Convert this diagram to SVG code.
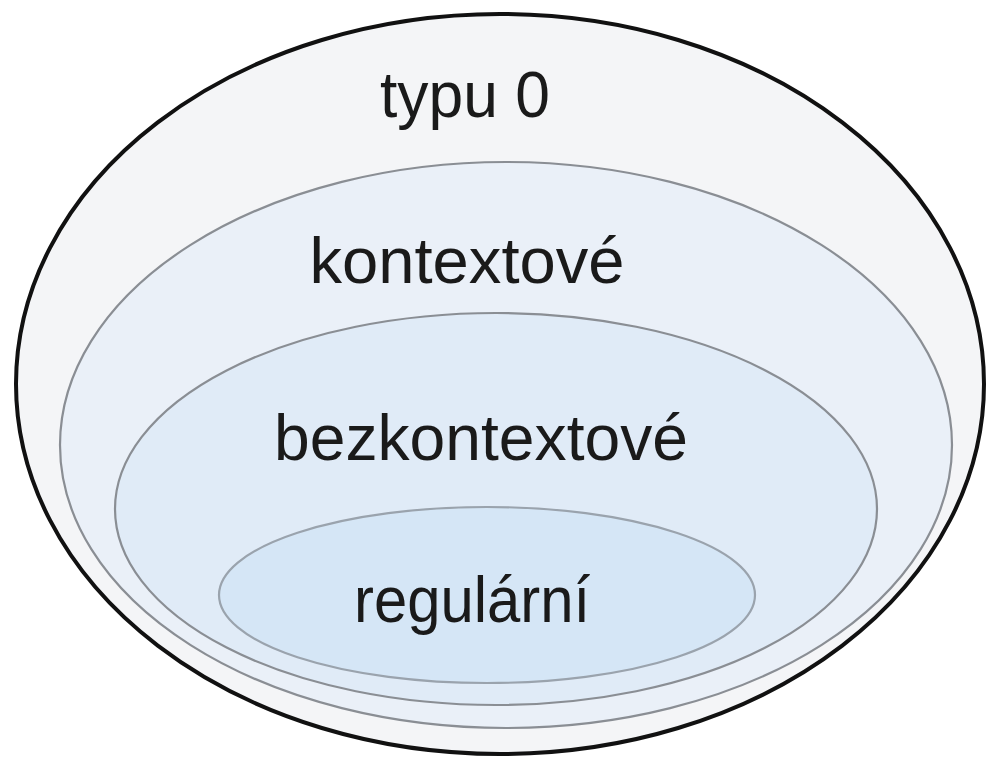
<svg xmlns="http://www.w3.org/2000/svg" width="992" height="759" viewBox="0 0 992 759">
<style>
.lbl{font-family:"Liberation Sans","DejaVu Sans",Arial,sans-serif;font-size:64px;fill:#1a1a1a;text-anchor:middle}
.inner{stroke:#8a8e94;stroke-width:2.2}
</style>
<rect x="0" y="0" width="992" height="759" fill="#ffffff"/>
<g id="typu0">
<ellipse cx="500" cy="384" rx="484" ry="370" fill="#f4f5f7" stroke="#111111" stroke-width="4"/>
<text class="lbl" x="465" y="117" textLength="170" lengthAdjust="spacingAndGlyphs">typu 0</text>
</g>
<g id="kontextove">
<ellipse cx="506" cy="445" rx="446" ry="283" fill="#eaf0f8" class="inner"/>
<text class="lbl" x="467" y="283" textLength="315" lengthAdjust="spacingAndGlyphs">kontextové</text>
</g>
<g id="bezkontextove">
<ellipse cx="496" cy="509" rx="381" ry="196" fill="#e0ebf7" class="inner"/>
<text class="lbl" x="481" y="460" textLength="414" lengthAdjust="spacingAndGlyphs">bezkontextové</text>
</g>
<g id="regularni">
<ellipse cx="487" cy="595" rx="268" ry="88" fill="#d5e6f6" stroke="#9aa3ad" stroke-width="2.2"/>
<text class="lbl" x="472" y="622" textLength="236" lengthAdjust="spacingAndGlyphs">regulární</text>
</g>
<g id="connectors"></g>
</svg>
